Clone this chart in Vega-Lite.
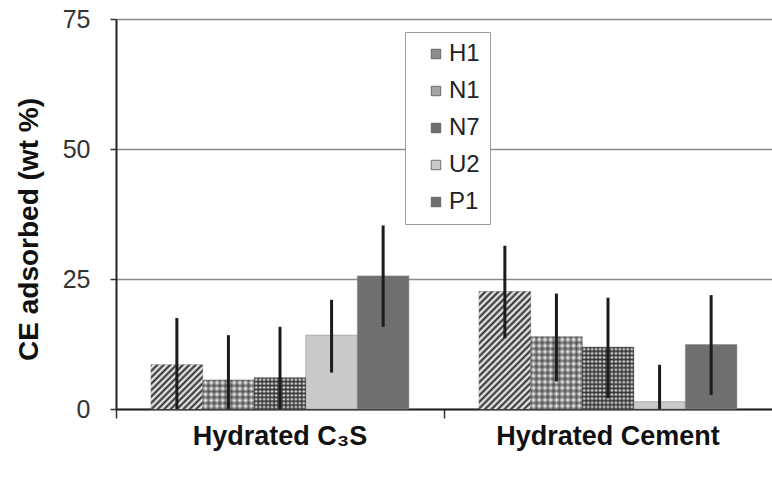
{
 "$schema": "https://vega.github.io/schema/vega-lite/v6.json",
 "width": 656, "height": 390,
 "autosize": {"type": "none"},
 "padding": {"left": 116, "top": 19, "right": 0, "bottom": 68},
 "config": {"font": "Liberation Sans", "view": {"stroke": null}},
 "data": {"values": [
  {"cat": "Hydrated C₃S", "series": "H1", "value": 8.5, "lo": 0, "hi": 17.5},
  {"cat": "Hydrated C₃S", "series": "N1", "value": 5.6, "lo": 0, "hi": 14.2},
  {"cat": "Hydrated C₃S", "series": "N7", "value": 6.0, "lo": 0, "hi": 15.8},
  {"cat": "Hydrated C₃S", "series": "U2", "value": 14.2, "lo": 7.0, "hi": 21.0},
  {"cat": "Hydrated C₃S", "series": "P1", "value": 25.6, "lo": 15.8, "hi": 35.3},
  {"cat": "Hydrated Cement", "series": "H1", "value": 22.6, "lo": 13.6, "hi": 31.4},
  {"cat": "Hydrated Cement", "series": "N1", "value": 13.9, "lo": 5.3, "hi": 22.2},
  {"cat": "Hydrated Cement", "series": "N7", "value": 11.9, "lo": 2.1, "hi": 21.4},
  {"cat": "Hydrated Cement", "series": "U2", "value": 1.4, "lo": 0, "hi": 8.5},
  {"cat": "Hydrated Cement", "series": "P1", "value": 12.4, "lo": 2.7, "hi": 21.9}
 ]},
 "encoding": {
  "x": {"field": "cat", "type": "nominal",
   "scale": {"domain": ["Hydrated C₃S", "Hydrated Cement"], "paddingInner": 0, "paddingOuter": 0},
   "axis": {"title": null, "bandPosition": 0, "labelOffset": 0, "labelFontSize": 27, "labelFontWeight": "bold", "labelColor": "#111", "labelPadding": 5, "labelLimit": 400, "labelOverlap": false, "labelBound": false, "labelAngle": 0, "tickSize": 9, "tickWidth": 1.5, "tickColor": "#333", "domainColor": "#222", "domainWidth": 2, "grid": false}},
  "xOffset": {"field": "series", "type": "nominal",
   "scale": {"domain": ["H1", "N1", "N7", "U2", "P1"], "paddingInner": 0, "paddingOuter": 0.68}},
  "y": {"field": "value", "type": "quantitative", "title": "CE adsorbed (wt %)",
   "scale": {"domain": [0, 75], "nice": false},
   "axis": {"values": [0, 25, 50, 75], "grid": true, "gridColor": "#8a8a8a", "gridWidth": 1.5, "tickSize": 6, "tickWidth": 1.5, "tickColor": "#333", "domainColor": "#222", "domainWidth": 2, "labelFontSize": 25, "labelColor": "#333", "labelPadding": 20, "titleFontSize": 28, "titleFontWeight": "bold", "titleColor": "#111", "titlePadding": 19, "titleY": 210}}
 },
 "layer": [
  {"mark": {"type": "bar", "stroke": "#8a8a8a", "strokeWidth": 0.6},
   "encoding": {"fill": {"field": "series", "type": "nominal",
    "scale": {"domain": ["H1", "N1", "N7", "U2", "P1"], "range": ["#8e8e8e", "#a4a4a4", "#6e6e6e", "#c9c9c9", "#6f6f6f"]},
    "legend": {"title": null, "orient": "none", "legendX": 289, "legendY": 13, "direction": "vertical", "fillColor": "#ffffff", "strokeColor": "#9a9a9a", "padding": 10, "labelFontSize": 24, "labelColor": "#222", "labelOffset": 1, "symbolOffset": 9, "symbolType": "square", "symbolSize": 90, "rowPadding": 13, "symbolStrokeColor": "#555", "symbolStrokeWidth": 0.8}}}},
  {"transform": [{"filter": "datum.series == 'H1' && datum.cat != 'Hydrated Cement'"}],
   "mark": {"type": "bar", "fill": {"gradient": "linear", "x1": 0, "y1": 0, "x2": 1.071, "y2": 0.917, "stops": [
    {"offset":0,"color":"#262626"},{"offset":0.0333,"color":"#ffffff"},{"offset":0.0667,"color":"#262626"},{"offset":0.1,"color":"#ffffff"},{"offset":0.1333,"color":"#262626"},{"offset":0.1667,"color":"#ffffff"},{"offset":0.2,"color":"#262626"},{"offset":0.2333,"color":"#ffffff"},{"offset":0.2667,"color":"#262626"},{"offset":0.3,"color":"#ffffff"},{"offset":0.3333,"color":"#262626"},{"offset":0.3667,"color":"#ffffff"},{"offset":0.4,"color":"#262626"},{"offset":0.4333,"color":"#ffffff"},{"offset":0.4667,"color":"#262626"},{"offset":0.5,"color":"#ffffff"},{"offset":0.5333,"color":"#262626"},{"offset":0.5667,"color":"#ffffff"},{"offset":0.6,"color":"#262626"},{"offset":0.6333,"color":"#ffffff"},{"offset":0.6667,"color":"#262626"},{"offset":0.7,"color":"#ffffff"},{"offset":0.7333,"color":"#262626"},{"offset":0.7667,"color":"#ffffff"},{"offset":0.8,"color":"#262626"},{"offset":0.8333,"color":"#ffffff"},{"offset":0.8667,"color":"#262626"},{"offset":0.9,"color":"#ffffff"},{"offset":0.9333,"color":"#262626"},{"offset":0.9667,"color":"#ffffff"},{"offset":1,"color":"#262626"}]}},
   "encoding": {}},
  {"transform": [{"filter": "datum.series == 'H1' && datum.cat == 'Hydrated Cement'"}],
   "mark": {"type": "bar", "fill": {"gradient": "linear", "x1": 0, "y1": 0, "x2": 0.53, "y2": 1.207, "stops": [
    {"offset":0,"color":"#262626"},{"offset":0.0192,"color":"#ffffff"},{"offset":0.0385,"color":"#262626"},{"offset":0.0577,"color":"#ffffff"},{"offset":0.0769,"color":"#262626"},{"offset":0.0962,"color":"#ffffff"},{"offset":0.1154,"color":"#262626"},{"offset":0.1346,"color":"#ffffff"},{"offset":0.1538,"color":"#262626"},{"offset":0.1731,"color":"#ffffff"},{"offset":0.1923,"color":"#262626"},{"offset":0.2115,"color":"#ffffff"},{"offset":0.2308,"color":"#262626"},{"offset":0.25,"color":"#ffffff"},{"offset":0.2692,"color":"#262626"},{"offset":0.2885,"color":"#ffffff"},{"offset":0.3077,"color":"#262626"},{"offset":0.3269,"color":"#ffffff"},{"offset":0.3462,"color":"#262626"},{"offset":0.3654,"color":"#ffffff"},{"offset":0.3846,"color":"#262626"},{"offset":0.4038,"color":"#ffffff"},{"offset":0.4231,"color":"#262626"},{"offset":0.4423,"color":"#ffffff"},{"offset":0.4615,"color":"#262626"},{"offset":0.4808,"color":"#ffffff"},{"offset":0.5,"color":"#262626"},{"offset":0.5192,"color":"#ffffff"},{"offset":0.5385,"color":"#262626"},{"offset":0.5577,"color":"#ffffff"},{"offset":0.5769,"color":"#262626"},{"offset":0.5962,"color":"#ffffff"},{"offset":0.6154,"color":"#262626"},{"offset":0.6346,"color":"#ffffff"},{"offset":0.6538,"color":"#262626"},{"offset":0.6731,"color":"#ffffff"},{"offset":0.6923,"color":"#262626"},{"offset":0.7115,"color":"#ffffff"},{"offset":0.7308,"color":"#262626"},{"offset":0.75,"color":"#ffffff"},{"offset":0.7692,"color":"#262626"},{"offset":0.7885,"color":"#ffffff"},{"offset":0.8077,"color":"#262626"},{"offset":0.8269,"color":"#ffffff"},{"offset":0.8462,"color":"#262626"},{"offset":0.8654,"color":"#ffffff"},{"offset":0.8846,"color":"#262626"},{"offset":0.9038,"color":"#ffffff"},{"offset":0.9231,"color":"#262626"},{"offset":0.9423,"color":"#ffffff"},{"offset":0.9615,"color":"#262626"},{"offset":0.9808,"color":"#ffffff"},{"offset":1,"color":"#262626"}]}},
   "encoding": {}},
  {"transform": [{"filter": "datum.series == 'N1'"}],
   "mark": {"type": "bar", "fill": {"gradient": "linear", "x1": 0, "y1": 0, "x2": 1, "y2": 0, "stops": [
    {"offset":0,"color":"#7d7d7d"},{"offset":0.0556,"color":"#ffffff"},{"offset":0.1111,"color":"#7d7d7d"},{"offset":0.1667,"color":"#ffffff"},{"offset":0.2222,"color":"#7d7d7d"},{"offset":0.2778,"color":"#ffffff"},{"offset":0.3333,"color":"#7d7d7d"},{"offset":0.3889,"color":"#ffffff"},{"offset":0.4444,"color":"#7d7d7d"},{"offset":0.5,"color":"#ffffff"},{"offset":0.5556,"color":"#7d7d7d"},{"offset":0.6111,"color":"#ffffff"},{"offset":0.6667,"color":"#7d7d7d"},{"offset":0.7222,"color":"#ffffff"},{"offset":0.7778,"color":"#7d7d7d"},{"offset":0.8333,"color":"#ffffff"},{"offset":0.8889,"color":"#7d7d7d"},{"offset":0.9444,"color":"#ffffff"},{"offset":1,"color":"#7d7d7d"}]}},
   "encoding": {}},
  {"transform": [{"filter": "datum.series == 'N1' && datum.cat != 'Hydrated Cement'"}],
   "mark": {"type": "bar", "fill": {"gradient": "linear", "x1": 0, "y1": 0, "x2": 0, "y2": 1, "stops": [
    {"offset":0,"color":"rgba(38,38,38,0.6)"},{"offset":0.1,"color":"rgba(38,38,38,0)"},{"offset":0.2,"color":"rgba(38,38,38,0.6)"},{"offset":0.3,"color":"rgba(38,38,38,0)"},{"offset":0.4,"color":"rgba(38,38,38,0.6)"},{"offset":0.5,"color":"rgba(38,38,38,0)"},{"offset":0.6,"color":"rgba(38,38,38,0.6)"},{"offset":0.7,"color":"rgba(38,38,38,0)"},{"offset":0.8,"color":"rgba(38,38,38,0.6)"},{"offset":0.9,"color":"rgba(38,38,38,0)"},{"offset":1,"color":"rgba(38,38,38,0.6)"}]}},
   "encoding": {}},
  {"transform": [{"filter": "datum.series == 'N1' && datum.cat == 'Hydrated Cement'"}],
   "mark": {"type": "bar", "fill": {"gradient": "linear", "x1": 0, "y1": 0, "x2": 0, "y2": 1, "stops": [
    {"offset":0,"color":"rgba(38,38,38,0.6)"},{"offset":0.0417,"color":"rgba(38,38,38,0)"},{"offset":0.0833,"color":"rgba(38,38,38,0.6)"},{"offset":0.125,"color":"rgba(38,38,38,0)"},{"offset":0.1667,"color":"rgba(38,38,38,0.6)"},{"offset":0.2083,"color":"rgba(38,38,38,0)"},{"offset":0.25,"color":"rgba(38,38,38,0.6)"},{"offset":0.2917,"color":"rgba(38,38,38,0)"},{"offset":0.3333,"color":"rgba(38,38,38,0.6)"},{"offset":0.375,"color":"rgba(38,38,38,0)"},{"offset":0.4167,"color":"rgba(38,38,38,0.6)"},{"offset":0.4583,"color":"rgba(38,38,38,0)"},{"offset":0.5,"color":"rgba(38,38,38,0.6)"},{"offset":0.5417,"color":"rgba(38,38,38,0)"},{"offset":0.5833,"color":"rgba(38,38,38,0.6)"},{"offset":0.625,"color":"rgba(38,38,38,0)"},{"offset":0.6667,"color":"rgba(38,38,38,0.6)"},{"offset":0.7083,"color":"rgba(38,38,38,0)"},{"offset":0.75,"color":"rgba(38,38,38,0.6)"},{"offset":0.7917,"color":"rgba(38,38,38,0)"},{"offset":0.8333,"color":"rgba(38,38,38,0.6)"},{"offset":0.875,"color":"rgba(38,38,38,0)"},{"offset":0.9167,"color":"rgba(38,38,38,0.6)"},{"offset":0.9583,"color":"rgba(38,38,38,0)"},{"offset":1,"color":"rgba(38,38,38,0.6)"}]}},
   "encoding": {}},
  {"transform": [{"filter": "datum.series == 'N7'"}],
   "mark": {"type": "bar", "fill": {"gradient": "linear", "x1": 0, "y1": 0, "x2": 1, "y2": 0, "stops": [
    {"offset":0,"color":"#474747"},{"offset":0.0385,"color":"#ffffff"},{"offset":0.0769,"color":"#474747"},{"offset":0.1154,"color":"#ffffff"},{"offset":0.1538,"color":"#474747"},{"offset":0.1923,"color":"#ffffff"},{"offset":0.2308,"color":"#474747"},{"offset":0.2692,"color":"#ffffff"},{"offset":0.3077,"color":"#474747"},{"offset":0.3462,"color":"#ffffff"},{"offset":0.3846,"color":"#474747"},{"offset":0.4231,"color":"#ffffff"},{"offset":0.4615,"color":"#474747"},{"offset":0.5,"color":"#ffffff"},{"offset":0.5385,"color":"#474747"},{"offset":0.5769,"color":"#ffffff"},{"offset":0.6154,"color":"#474747"},{"offset":0.6538,"color":"#ffffff"},{"offset":0.6923,"color":"#474747"},{"offset":0.7308,"color":"#ffffff"},{"offset":0.7692,"color":"#474747"},{"offset":0.8077,"color":"#ffffff"},{"offset":0.8462,"color":"#474747"},{"offset":0.8846,"color":"#ffffff"},{"offset":0.9231,"color":"#474747"},{"offset":0.9615,"color":"#ffffff"},{"offset":1,"color":"#474747"}]}},
   "encoding": {}},
  {"transform": [{"filter": "datum.series == 'N7' && datum.cat != 'Hydrated Cement'"}],
   "mark": {"type": "bar", "fill": {"gradient": "linear", "x1": 0, "y1": 0, "x2": 0, "y2": 1, "stops": [
    {"offset":0,"color":"rgba(38,38,38,0.85)"},{"offset":0.0625,"color":"rgba(38,38,38,0)"},{"offset":0.125,"color":"rgba(38,38,38,0.85)"},{"offset":0.1875,"color":"rgba(38,38,38,0)"},{"offset":0.25,"color":"rgba(38,38,38,0.85)"},{"offset":0.3125,"color":"rgba(38,38,38,0)"},{"offset":0.375,"color":"rgba(38,38,38,0.85)"},{"offset":0.4375,"color":"rgba(38,38,38,0)"},{"offset":0.5,"color":"rgba(38,38,38,0.85)"},{"offset":0.5625,"color":"rgba(38,38,38,0)"},{"offset":0.625,"color":"rgba(38,38,38,0.85)"},{"offset":0.6875,"color":"rgba(38,38,38,0)"},{"offset":0.75,"color":"rgba(38,38,38,0.85)"},{"offset":0.8125,"color":"rgba(38,38,38,0)"},{"offset":0.875,"color":"rgba(38,38,38,0.85)"},{"offset":0.9375,"color":"rgba(38,38,38,0)"},{"offset":1,"color":"rgba(38,38,38,0.85)"}]}},
   "encoding": {}},
  {"transform": [{"filter": "datum.series == 'N7' && datum.cat == 'Hydrated Cement'"}],
   "mark": {"type": "bar", "fill": {"gradient": "linear", "x1": 0, "y1": 0, "x2": 0, "y2": 1, "stops": [
    {"offset":0,"color":"rgba(38,38,38,0.85)"},{"offset":0.0333,"color":"rgba(38,38,38,0)"},{"offset":0.0667,"color":"rgba(38,38,38,0.85)"},{"offset":0.1,"color":"rgba(38,38,38,0)"},{"offset":0.1333,"color":"rgba(38,38,38,0.85)"},{"offset":0.1667,"color":"rgba(38,38,38,0)"},{"offset":0.2,"color":"rgba(38,38,38,0.85)"},{"offset":0.2333,"color":"rgba(38,38,38,0)"},{"offset":0.2667,"color":"rgba(38,38,38,0.85)"},{"offset":0.3,"color":"rgba(38,38,38,0)"},{"offset":0.3333,"color":"rgba(38,38,38,0.85)"},{"offset":0.3667,"color":"rgba(38,38,38,0)"},{"offset":0.4,"color":"rgba(38,38,38,0.85)"},{"offset":0.4333,"color":"rgba(38,38,38,0)"},{"offset":0.4667,"color":"rgba(38,38,38,0.85)"},{"offset":0.5,"color":"rgba(38,38,38,0)"},{"offset":0.5333,"color":"rgba(38,38,38,0.85)"},{"offset":0.5667,"color":"rgba(38,38,38,0)"},{"offset":0.6,"color":"rgba(38,38,38,0.85)"},{"offset":0.6333,"color":"rgba(38,38,38,0)"},{"offset":0.6667,"color":"rgba(38,38,38,0.85)"},{"offset":0.7,"color":"rgba(38,38,38,0)"},{"offset":0.7333,"color":"rgba(38,38,38,0.85)"},{"offset":0.7667,"color":"rgba(38,38,38,0)"},{"offset":0.8,"color":"rgba(38,38,38,0.85)"},{"offset":0.8333,"color":"rgba(38,38,38,0)"},{"offset":0.8667,"color":"rgba(38,38,38,0.85)"},{"offset":0.9,"color":"rgba(38,38,38,0)"},{"offset":0.9333,"color":"rgba(38,38,38,0.85)"},{"offset":0.9667,"color":"rgba(38,38,38,0)"},{"offset":1,"color":"rgba(38,38,38,0.85)"}]}},
   "encoding": {}},
  {"mark": {"type": "rule", "color": "#1c1c1c", "strokeWidth": 3},
   "encoding": {"y": {"field": "lo", "type": "quantitative", "title": "CE adsorbed (wt %)"}, "y2": {"field": "hi"}}}
 ]
}
